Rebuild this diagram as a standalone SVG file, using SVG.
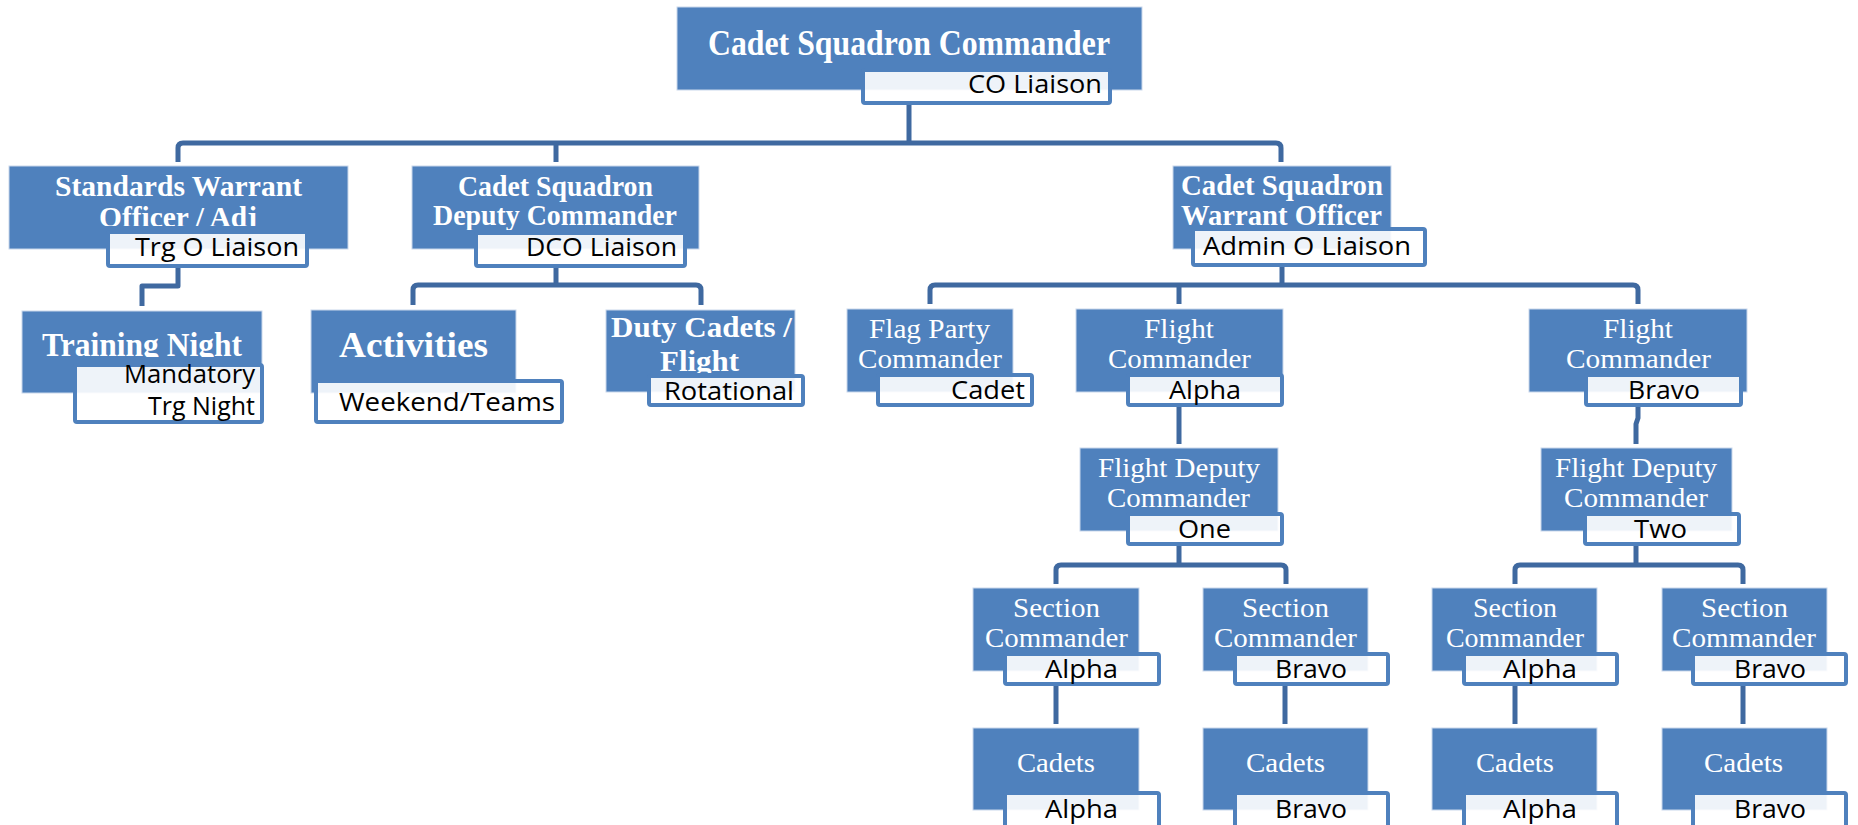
<svg xmlns="http://www.w3.org/2000/svg" width="1858" height="825" viewBox="0 0 1858 825">
<style>
.box{fill:#4F81BD;stroke:#C9D7EB;stroke-width:1}
.lbl{fill:#fff;fill-opacity:0.9;stroke:#4F81BD;stroke-width:4}
.tb{font-family:"Liberation Serif","Times New Roman",serif;font-weight:bold;fill:#fff}
.tr{font-family:"Liberation Serif","Times New Roman",serif;fill:#fff;font-size:27px}
.lt{font-family:"Open Sans","Liberation Sans",sans-serif;fill:#000;font-size:26px}
.conn{fill:none;stroke:#3F69A0;stroke-width:5;stroke-linejoin:round;stroke-linecap:butt}
</style>
<defs>
<clipPath id="cStd"><rect x="0" y="150" width="400" height="76"/></clipPath>
<clipPath id="cDep"><rect x="400" y="150" width="320" height="80"/></clipPath>
<clipPath id="cTN"><rect x="0" y="300" width="300" height="57"/></clipPath>
<clipPath id="cDuty"><rect x="600" y="300" width="220" height="73"/></clipPath>
</defs>
<g id="connectors">
<path class="conn" d="M909,104 V143"/>
<path class="conn" d="M178,162 V148 Q178,143 183,143 H1276 Q1281,143 1281,148 V162"/>
<path class="conn" d="M556,143 V162"/>
<path class="conn" d="M178,266 V286 H142 V306"/>
<path class="conn" d="M556,266 V285"/>
<path class="conn" d="M413,305 V290 Q413,285 418,285 H696 Q701,285 701,290 V305"/>
<path class="conn" d="M1282,265 V285"/>
<path class="conn" d="M930,304 V290 Q930,285 935,285 H1633 Q1638,285 1638,290 V304"/>
<path class="conn" d="M1179,285 V304"/>
<path class="conn" d="M1179,405 V444"/>
<path class="conn" d="M1638,405 V418 L1636,424 V444"/>
<path class="conn" d="M1179,544 V565"/>
<path class="conn" d="M1056,584 V570 Q1056,565 1061,565 H1281 Q1286,565 1286,570 V584"/>
<path class="conn" d="M1636,544 V565"/>
<path class="conn" d="M1515,584 V570 Q1515,565 1520,565 H1738 Q1743,565 1743,570 V584"/>
<path class="conn" d="M1056,684 V724"/>
<path class="conn" d="M1285,684 V724"/>
<path class="conn" d="M1515,684 V724"/>
<path class="conn" d="M1743,684 V724"/>
</g>
<g id="n-commander">
<rect class="box" x="677" y="7" width="465" height="83"/>
<text class="tb" font-size="35" x="708" y="55" textLength="402" lengthAdjust="spacingAndGlyphs">Cadet Squadron Commander</text>
<rect class="lbl" x="863" y="70" width="247" height="33" rx="2"/>
<text class="lt" font-size="30" x="968" y="93" textLength="134" lengthAdjust="spacingAndGlyphs">CO Liaison</text>
</g>
<g id="n-standards">
<rect class="box" x="9" y="166" width="339" height="83"/>
<text class="tb" font-size="29" x="55" y="196" textLength="247" lengthAdjust="spacingAndGlyphs">Standards Warrant</text>
<text class="tb" font-size="29" x="99" y="227" textLength="158" lengthAdjust="spacingAndGlyphs" clip-path="url(#cStd)">Officer / Adj</text>
<rect class="lbl" x="108" y="232" width="199" height="34" rx="2"/>
<text class="lt" x="135" y="256" textLength="164" lengthAdjust="spacingAndGlyphs">Trg O Liaison</text>
</g>
<g id="n-deputy">
<rect class="box" x="412" y="166" width="287" height="83"/>
<text class="tb" font-size="29" x="458" y="196" textLength="195" lengthAdjust="spacingAndGlyphs">Cadet Squadron</text>
<text class="tb" font-size="29" x="433" y="225" textLength="244" lengthAdjust="spacingAndGlyphs" clip-path="url(#cDep)">Deputy Commander</text>
<rect class="lbl" x="476" y="233" width="209" height="33" rx="2"/>
<text class="lt" x="526" y="256" textLength="151" lengthAdjust="spacingAndGlyphs">DCO Liaison</text>
</g>
<g id="n-warrant">
<rect class="box" x="1173" y="166" width="218" height="83"/>
<text class="tb" font-size="29" x="1181" y="195" textLength="202" lengthAdjust="spacingAndGlyphs">Cadet Squadron</text>
<text class="tb" font-size="29" x="1181" y="225" textLength="201" lengthAdjust="spacingAndGlyphs">Warrant Officer</text>
<rect class="lbl" x="1193" y="229" width="232" height="36" rx="2"/>
<text class="lt" x="1203" y="255" textLength="208" lengthAdjust="spacingAndGlyphs">Admin O Liaison</text>
</g>
<g id="n-training">
<rect class="box" x="22" y="311" width="240" height="82"/>
<text class="tb" font-size="33" x="42" y="356" textLength="200" lengthAdjust="spacingAndGlyphs" clip-path="url(#cTN)">Training Night</text>
<rect class="lbl" x="75" y="365" width="187" height="57" rx="2"/>
<text class="lt" font-size="23" x="124" y="383" textLength="131" lengthAdjust="spacingAndGlyphs">Mandatory</text>
<text class="lt" font-size="23" x="148" y="415" textLength="107" lengthAdjust="spacingAndGlyphs">Trg Night</text>
</g>
<g id="n-activities">
<rect class="box" x="311" y="310" width="205" height="83"/>
<text class="tb" font-size="36" x="339" y="357" textLength="149" lengthAdjust="spacingAndGlyphs">Activities</text>
<rect class="lbl" x="316" y="381" width="246" height="41" rx="2"/>
<text class="lt" x="339" y="411" textLength="216" lengthAdjust="spacingAndGlyphs">Weekend/Teams</text>
</g>
<g id="n-duty">
<rect class="box" x="606" y="310" width="189" height="82"/>
<text class="tb" font-size="30" x="611" y="337" textLength="181" lengthAdjust="spacingAndGlyphs">Duty Cadets /</text>
<text class="tb" font-size="30" x="660" y="371" textLength="79" lengthAdjust="spacingAndGlyphs" clip-path="url(#cDuty)">Flight</text>
<rect class="lbl" x="649" y="376" width="154" height="29" rx="2"/>
<text class="lt" x="664" y="400" textLength="130" lengthAdjust="spacingAndGlyphs">Rotational</text>
</g>
<g id="n-flagparty">
<rect class="box" x="847" y="309" width="166" height="83"/>
<text class="tr" x="869" y="338" textLength="121" lengthAdjust="spacingAndGlyphs">Flag Party</text>
<text class="tr" x="858" y="368" textLength="144" lengthAdjust="spacingAndGlyphs">Commander</text>
<rect class="lbl" x="878" y="375" width="154" height="30" rx="2"/>
<text class="lt" font-size="25" x="951" y="399" textLength="74" lengthAdjust="spacingAndGlyphs">Cadet</text>
</g>
<g id="n-flight-alpha">
<rect class="box" x="1076" y="309" width="207" height="83"/>
<text class="tr" x="1144" y="338" textLength="70" lengthAdjust="spacingAndGlyphs">Flight</text>
<text class="tr" x="1108" y="368" textLength="143" lengthAdjust="spacingAndGlyphs">Commander</text>
<rect class="lbl" x="1128" y="375" width="154" height="30" rx="2"/>
<text class="lt" font-size="25" x="1169" y="399" textLength="72" lengthAdjust="spacingAndGlyphs">Alpha</text>
</g>
<g id="n-flight-bravo">
<rect class="box" x="1529" y="309" width="218" height="83"/>
<text class="tr" x="1603" y="338" textLength="70" lengthAdjust="spacingAndGlyphs">Flight</text>
<text class="tr" x="1566" y="368" textLength="145" lengthAdjust="spacingAndGlyphs">Commander</text>
<rect class="lbl" x="1586" y="375" width="155" height="30" rx="2"/>
<text class="lt" font-size="25" x="1628" y="399" textLength="72" lengthAdjust="spacingAndGlyphs">Bravo</text>
</g>
<g id="n-deputy-one">
<rect class="box" x="1080" y="448" width="198" height="83"/>
<text class="tr" x="1098" y="477" textLength="162" lengthAdjust="spacingAndGlyphs">Flight Deputy</text>
<text class="tr" x="1107" y="507" textLength="143" lengthAdjust="spacingAndGlyphs">Commander</text>
<rect class="lbl" x="1128" y="514" width="154" height="30" rx="2"/>
<text class="lt" font-size="25" x="1178" y="538" textLength="53" lengthAdjust="spacingAndGlyphs">One</text>
</g>
<g id="n-deputy-two">
<rect class="box" x="1541" y="448" width="191" height="83"/>
<text class="tr" x="1555" y="477" textLength="162" lengthAdjust="spacingAndGlyphs">Flight Deputy</text>
<text class="tr" x="1564" y="507" textLength="144" lengthAdjust="spacingAndGlyphs">Commander</text>
<rect class="lbl" x="1585" y="514" width="154" height="30" rx="2"/>
<text class="lt" font-size="25" x="1634" y="538" textLength="53" lengthAdjust="spacingAndGlyphs">Two</text>
</g>
<g id="n-section-1a">
<rect class="box" x="973" y="588" width="166" height="83"/>
<text class="tr" x="1013" y="617" textLength="87" lengthAdjust="spacingAndGlyphs">Section</text>
<text class="tr" x="985" y="647" textLength="143" lengthAdjust="spacingAndGlyphs">Commander</text>
<rect class="lbl" x="1005" y="654" width="154" height="30" rx="2"/>
<text class="lt" font-size="25" x="1045" y="678" textLength="73" lengthAdjust="spacingAndGlyphs">Alpha</text>
</g>
<g id="n-section-1b">
<rect class="box" x="1203" y="588" width="165" height="83"/>
<text class="tr" x="1242" y="617" textLength="87" lengthAdjust="spacingAndGlyphs">Section</text>
<text class="tr" x="1214" y="647" textLength="143" lengthAdjust="spacingAndGlyphs">Commander</text>
<rect class="lbl" x="1235" y="654" width="153" height="30" rx="2"/>
<text class="lt" font-size="25" x="1275" y="678" textLength="72" lengthAdjust="spacingAndGlyphs">Bravo</text>
</g>
<g id="n-section-2a">
<rect class="box" x="1432" y="588" width="165" height="83"/>
<text class="tr" x="1473" y="617" textLength="84" lengthAdjust="spacingAndGlyphs">Section</text>
<text class="tr" x="1446" y="647" textLength="138" lengthAdjust="spacingAndGlyphs">Commander</text>
<rect class="lbl" x="1464" y="654" width="153" height="30" rx="2"/>
<text class="lt" font-size="25" x="1503" y="678" textLength="74" lengthAdjust="spacingAndGlyphs">Alpha</text>
</g>
<g id="n-section-2b">
<rect class="box" x="1662" y="588" width="165" height="83"/>
<text class="tr" x="1701" y="617" textLength="87" lengthAdjust="spacingAndGlyphs">Section</text>
<text class="tr" x="1672" y="647" textLength="144" lengthAdjust="spacingAndGlyphs">Commander</text>
<rect class="lbl" x="1693" y="654" width="153" height="30" rx="2"/>
<text class="lt" font-size="25" x="1734" y="678" textLength="72" lengthAdjust="spacingAndGlyphs">Bravo</text>
</g>
<g id="n-cadets-1a">
<rect class="box" x="973" y="728" width="166" height="82"/>
<text class="tr" x="1017" y="772" textLength="78" lengthAdjust="spacingAndGlyphs">Cadets</text>
<rect class="lbl" x="1005" y="793" width="154" height="34" rx="2"/>
<text class="lt" font-size="25" x="1045" y="818" textLength="73" lengthAdjust="spacingAndGlyphs">Alpha</text>
</g>
<g id="n-cadets-1b">
<rect class="box" x="1203" y="728" width="165" height="82"/>
<text class="tr" x="1246" y="772" textLength="79" lengthAdjust="spacingAndGlyphs">Cadets</text>
<rect class="lbl" x="1235" y="793" width="153" height="34" rx="2"/>
<text class="lt" font-size="25" x="1275" y="818" textLength="72" lengthAdjust="spacingAndGlyphs">Bravo</text>
</g>
<g id="n-cadets-2a">
<rect class="box" x="1432" y="728" width="165" height="82"/>
<text class="tr" x="1476" y="772" textLength="78" lengthAdjust="spacingAndGlyphs">Cadets</text>
<rect class="lbl" x="1464" y="793" width="153" height="34" rx="2"/>
<text class="lt" font-size="25" x="1503" y="818" textLength="74" lengthAdjust="spacingAndGlyphs">Alpha</text>
</g>
<g id="n-cadets-2b">
<rect class="box" x="1662" y="728" width="165" height="82"/>
<text class="tr" x="1704" y="772" textLength="79" lengthAdjust="spacingAndGlyphs">Cadets</text>
<rect class="lbl" x="1693" y="793" width="153" height="34" rx="2"/>
<text class="lt" font-size="25" x="1734" y="818" textLength="72" lengthAdjust="spacingAndGlyphs">Bravo</text>
</g>
</svg>
